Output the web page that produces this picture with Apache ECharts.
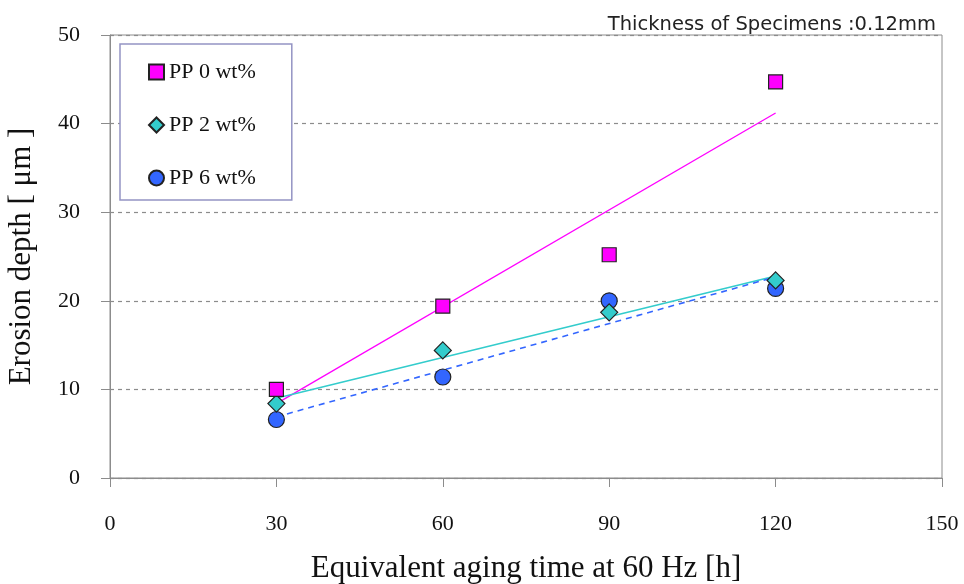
<!DOCTYPE html>
<html>
<head>
<meta charset="utf-8">
<script src="https://cdn.jsdelivr.net/npm/echarts@6/dist/echarts.min.js"></script>
<style>
  html, body { margin: 0; padding: 0; background: #fff; }
  #chart { width: 964px; height: 584px; }
</style>
</head>
<body>
<div id="chart"></div>
<script>
// aging time [h]
var hours = [30, 60, 90, 120];

// erosion depth [um]
var pp0 = [10.0, 19.4, 25.2, 44.7];
var pp2 = [8.4, 14.4, 18.7, 22.3];
var pp6 = [6.6, 11.4, 20.0, 21.4];

// trend line ends (x, y)
var fit0 = [[30, 8.4], [120, 41.2]];
var fit2 = [[30, 9.0], [120, 22.8]];
var fit6 = [[30, 6.9], [120, 22.7]];

var names = ["PP 0 wt%", "PP 2 wt%", "PP 6 wt%"];
var xTicks = [0, 30, 60, 90, 120, 150];

var chartDom = document.getElementById("chart");
var myChart = echarts.init(chartDom);

function pairs(ys) {
  return hours.map(function (h, i) {
    return [h, ys[i]];
  });
}

var serif = "'Liberation Serif', 'DejaVu Serif', serif";

var option = {
  backgroundColor: "#fff",
  animation: false,
  title: {
    text: "Thickness of Specimens :0.12mm",
    right: 23,
    top: 10,
    textStyle: {
      fontFamily: "'DejaVu Sans', sans-serif",
      fontSize: 19.5,
      fontWeight: "normal",
      color: "#222",
    },
  },
  grid: {
    left: 110,
    right: 22,
    top: 35,
    bottom: 106,
    outerBoundsMode: "none",
    containLabel: false,
    show: true,
    borderColor: "#8c8c8c",
    borderWidth: 1,
  },
  legend: {
    orient: "vertical",
    left: 120,
    top: 44,
    padding: [17, 36, 11, 28],
    itemGap: 31,
    itemWidth: 15,
    itemHeight: 15,
    backgroundColor: "#fff",
    borderColor: "#9494c4",
    borderWidth: 1.5,
    borderRadius: 0,
    textStyle: {
      fontFamily: serif,
      fontSize: 22,
      color: "#111",
      lineHeight: 22,
    },
    data: [
      { name: names[0], icon: "rect" },
      { name: names[1], icon: "diamond" },
      { name: names[2], icon: "circle" },
    ],
  },
  xAxis: {
    type: "value",
    min: 0,
    max: 150,
    interval: 30,
    name: "Equivalent aging time at 60 Hz [h]",
    nameLocation: "middle",
    nameGap: 75,
    nameTextStyle: {
      fontFamily: serif,
      fontSize: 31,
      color: "#111",
    },
    axisLine: { show: true, lineStyle: { color: "#8c8c8c", width: 1 } },
    axisTick: { show: true, inside: false, length: 9, lineStyle: { color: "#8c8c8c" } },
    axisLabel: {
      margin: 35,
      fontFamily: serif,
      fontSize: 22,
      color: "#111",
      formatter: function (v) {
        return xTicks.indexOf(v) >= 0 ? String(v) : "";
      },
    },
    splitLine: { show: false },
  },
  yAxis: {
    type: "value",
    min: 0,
    max: 50,
    interval: 10,
    name: "Erosion depth [ μm ]",
    nameLocation: "middle",
    nameGap: 73,
    nameTextStyle: {
      fontFamily: serif,
      fontSize: 31,
      color: "#111",
    },
    axisLine: { show: true, lineStyle: { color: "#8c8c8c", width: 1 } },
    axisTick: { show: true, inside: false, length: 9, lineStyle: { color: "#8c8c8c" } },
    axisLabel: {
      margin: 30,
      fontFamily: serif,
      fontSize: 22,
      color: "#111",
    },
    splitLine: {
      show: true,
      lineStyle: { color: "#8c8c8c", type: [4, 4], width: 1.2 },
    },
  },
  series: [
    {
      name: "fit0",
      type: "line",
      data: fit0,
      symbol: "none",
      lineStyle: { color: "#ff00ff", width: 1.3 },
      z: 2,
    },
    {
      name: "fit2",
      type: "line",
      data: fit2,
      symbol: "none",
      lineStyle: { color: "#33cccc", width: 1.6 },
      z: 2,
    },
    {
      name: "fit6",
      type: "line",
      data: fit6,
      symbol: "none",
      lineStyle: { color: "#3366ff", width: 1.6, type: [6, 5] },
      z: 2,
    },
    {
      name: names[0],
      type: "scatter",
      data: pairs(pp0),
      symbol: "rect",
      symbolSize: 14,
      itemStyle: { color: "#ff00ff", borderColor: "#222", borderWidth: 1.2, opacity: 1 },
      z: 5,
    },
    {
      name: names[1],
      type: "scatter",
      data: pairs(pp2),
      symbol: "diamond",
      symbolSize: 17,
      itemStyle: { color: "#33cccc", borderColor: "#222", borderWidth: 1.2, opacity: 1 },
      z: 4,
    },
    {
      name: names[2],
      type: "scatter",
      data: pairs(pp6),
      symbol: "circle",
      symbolSize: 16,
      itemStyle: { color: "#3366ff", borderColor: "#222", borderWidth: 1.2, opacity: 1 },
      z: 3,
    },
  ],
};

option && myChart.setOption(option);
</script>
</body>
</html>
